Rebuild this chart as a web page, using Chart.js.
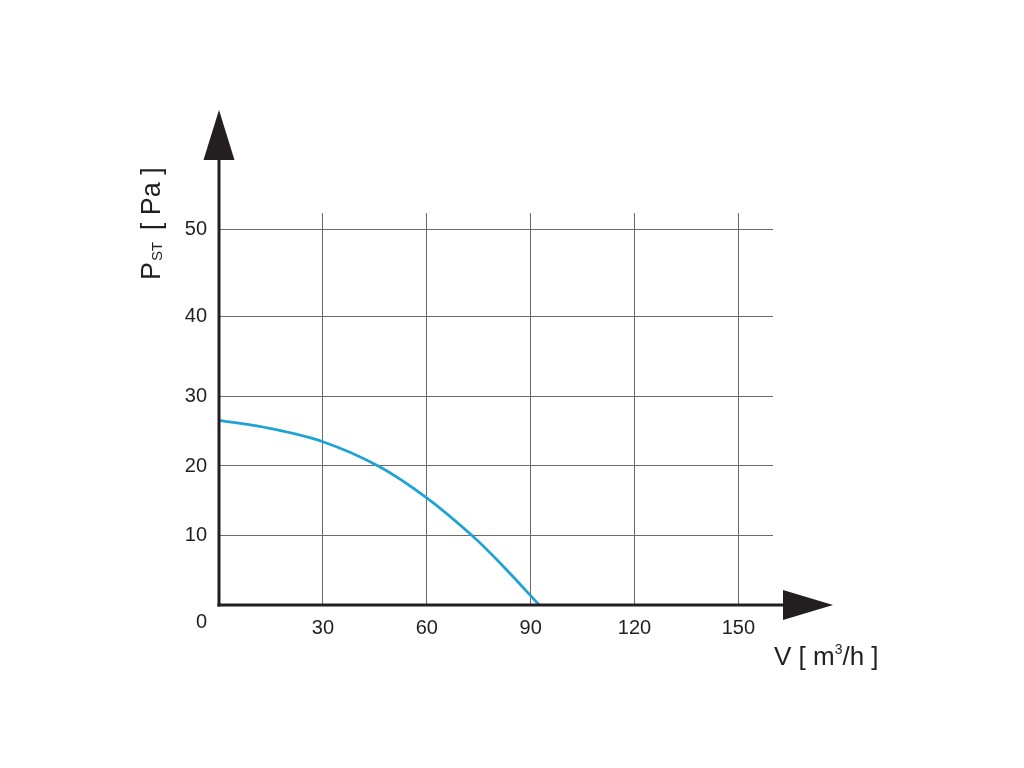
<!DOCTYPE html>
<html>
<head>
<meta charset="utf-8">
<script src="https://cdn.jsdelivr.net/npm/chart.js@4.4.1/dist/chart.umd.min.js"></script>
<style>
  html, body { margin: 0; padding: 0; background: #ffffff; }
  #wrap { width: 1024px; height: 768px; }
</style>
</head>
<body>
<div id="wrap"><canvas id="c" width="1024" height="768"></canvas></div>
<script>
// ---- data ----
const flowValues = [0, 15, 30, 46, 60, 73, 82, 92.5];          // V [m3/h]
const pressureValues = [26.6, 25.4, 23.5, 20, 15.4, 10, 5.6, 0]; // Pst [Pa]
const xTickValues = [0, 30, 60, 90, 120, 150];
const yTickValues = [0, 10, 20, 30, 40, 50];
const xMax = 160;
const yMax = 52;

// ---- layout of the (unevenly spaced) pressure axis ----
const yTickFractions = [0, 0.1778, 0.3546, 0.5314, 0.7355, 0.9584];
const yKnots = yTickValues.concat([yMax]);
const yFracs = yTickFractions.concat([1]);

function valueToFrac(v) {
  for (let i = 0; i < yKnots.length - 1; i++) {
    if (v <= yKnots[i + 1] || i === yKnots.length - 2) {
      const t = (v - yKnots[i]) / (yKnots[i + 1] - yKnots[i]);
      return yFracs[i] + t * (yFracs[i + 1] - yFracs[i]);
    }
  }
  return 0;
}
function fracToValue(f) {
  for (let i = 0; i < yFracs.length - 1; i++) {
    if (f <= yFracs[i + 1] || i === yFracs.length - 2) {
      const t = (f - yFracs[i]) / (yFracs[i + 1] - yFracs[i]);
      return yKnots[i] + t * (yKnots[i + 1] - yKnots[i]);
    }
  }
  return 0;
}

class StretchedScale extends Chart.LinearScale {
  getPixelForValue(value) { return this.getPixelForDecimal(valueToFrac(value)); }
  getValueForPixel(pixel) { return fracToValue(this.getDecimalForPixel(pixel)); }
}
StretchedScale.id = 'stretched';
StretchedScale.defaults = {};
Chart.register(StretchedScale);

const INK = '#231f20';
const FONT = '"Liberation Sans", Arial, sans-serif';

const axesPlugin = {
  id: 'axesArrows',
  afterDraw(chart) {
    const ctx = chart.ctx;
    const a = chart.chartArea;
    const x0 = chart.scales.x.getPixelForValue(0);
    const y0 = chart.scales.y.getPixelForValue(0);
    ctx.save();
    ctx.strokeStyle = INK;
    ctx.fillStyle = INK;
    ctx.lineWidth = 3;
    ctx.lineCap = 'butt';
    // y axis line + arrow
    ctx.beginPath();
    ctx.moveTo(x0, y0 + 1.5);
    ctx.lineTo(x0, a.top - 54);
    ctx.stroke();
    ctx.beginPath();
    ctx.moveTo(x0, a.top - 103);
    ctx.lineTo(x0 - 15.5, a.top - 53);
    ctx.lineTo(x0 + 15.5, a.top - 53);
    ctx.closePath();
    ctx.fill();
    // x axis line + arrow
    ctx.beginPath();
    ctx.moveTo(x0 - 1.5, y0);
    ctx.lineTo(a.right + 11, y0);
    ctx.stroke();
    ctx.beginPath();
    ctx.moveTo(a.right + 60, y0);
    ctx.lineTo(a.right + 10, y0 - 15);
    ctx.lineTo(a.right + 10, y0 + 15);
    ctx.closePath();
    ctx.fill();

    // origin label
    ctx.font = '20px ' + FONT;
    ctx.textAlign = 'right';
    ctx.textBaseline = 'middle';
    ctx.fillText('0', x0 - 12, y0 + 17);

    // x axis title: V [ m3/h ]
    ctx.textAlign = 'left';
    ctx.textBaseline = 'alphabetic';
    let tx = a.right + 1;
    const ty = y0 + 60;
    ctx.font = '26px ' + FONT;
    const p1 = 'V [ m';
    ctx.fillText(p1, tx, ty);
    tx += ctx.measureText(p1).width;
    ctx.font = '14px ' + FONT;
    ctx.fillText('3', tx, ty - 11);
    tx += ctx.measureText('3').width;
    ctx.font = '26px ' + FONT;
    ctx.fillText('/h ]', tx, ty);

    // y axis title: P_ST [ Pa ]
    ctx.save();
    ctx.translate(160, 280);
    ctx.rotate(-Math.PI / 2);
    let ry = 0;
    ctx.font = '27px ' + FONT;
    ctx.fillText('P', ry, 0);
    ry += ctx.measureText('P').width + 1;
    ctx.font = '15px ' + FONT;
    ctx.fillText('ST', ry, 2);
    ry += ctx.measureText('ST').width + 4;
    ctx.font = '27px ' + FONT;
    ctx.fillText(' [ Pa ]', ry, 0);
    ctx.restore();

    ctx.restore();
  }
};

new Chart(document.getElementById('c'), {
  type: 'line',
  data: {
    datasets: [{
      data: flowValues.map((v, i) => ({ x: v, y: pressureValues[i] })),
      borderColor: '#1fa3d3',
      borderWidth: 2.75,
      pointRadius: 0,
      fill: false,
      tension: 0.35
    }]
  },
  options: {
    responsive: false,
    animation: false,
    devicePixelRatio: 1,
    layout: { padding: { left: 0, top: 213, right: 251, bottom: 0 } },
    plugins: { legend: { display: false }, tooltip: { enabled: false } },
    scales: {
      x: {
        type: 'linear',
        min: 0,
        max: xMax,
        afterBuildTicks(scale) { scale.ticks = xTickValues.map(v => ({ value: v })); },
        afterFit(scale) { scale.height = 163; },
        border: { display: false },
        grid: {
          drawTicks: false,
          lineWidth: 1,
          color: ctx => (ctx.tick && ctx.tick.value === 0) ? 'rgba(0,0,0,0)' : '#6b6b6b'
        },
        ticks: {
          padding: 11,
          color: INK,
          font: { family: FONT, size: 20 },
          callback: v => (v === 0 ? '' : String(v))
        }
      },
      y: {
        type: 'stretched',
        min: 0,
        max: yMax,
        afterBuildTicks(scale) { scale.ticks = yTickValues.map(v => ({ value: v })); },
        afterFit(scale) { scale.width = 219; },
        border: { display: false },
        grid: {
          drawTicks: false,
          lineWidth: 1,
          color: ctx => (ctx.tick && ctx.tick.value === 0) ? 'rgba(0,0,0,0)' : '#6b6b6b'
        },
        ticks: {
          padding: 12,
          color: INK,
          font: { family: FONT, size: 20 },
          callback: v => (v === 0 ? '' : String(v))
        }
      }
    }
  },
  plugins: [axesPlugin]
});
</script>
</body>
</html>
